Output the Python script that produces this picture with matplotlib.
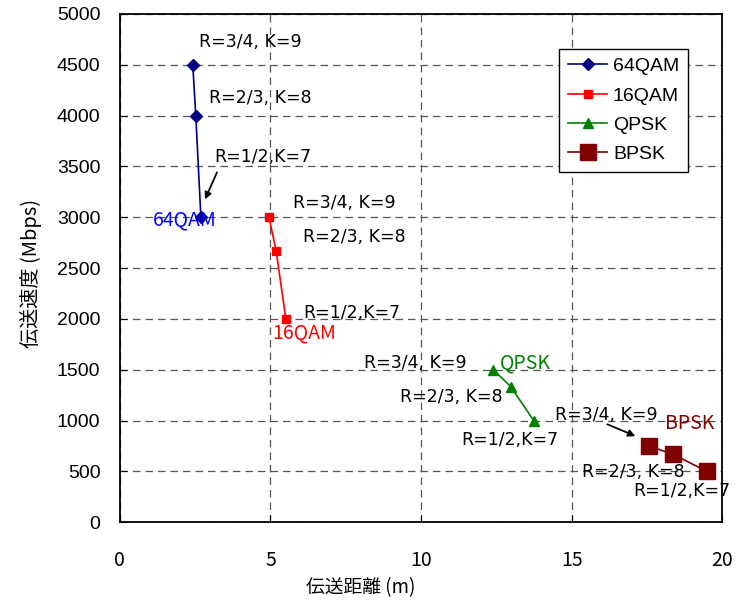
import matplotlib
matplotlib.use("Agg")
import matplotlib.pyplot as plt

plt.rcParams['font.family'] = ['Noto Sans CJK JP', 'DejaVu Sans']

# data: distance (m) and rate (Mbps) for each modulation
qam64_x = [2.42, 2.52, 2.69]
qam64_y = [4500, 4000, 3000]
qam16_x = [4.95, 5.19, 5.51]
qam16_y = [3000, 2667, 2000]
qpsk_x = [12.4, 12.98, 13.74]
qpsk_y = [1500, 1333, 1000]
bpsk_x = [17.57, 18.38, 19.49]
bpsk_y = [750, 667, 500]

x_ticks = [0, 5, 10, 15, 20]
y_ticks = list(range(0, 5001, 500))

fig = plt.figure(figsize=(7.40, 6.01), dpi=100)
ax = fig.add_axes([0.162, 0.131, 0.814, 0.846])

ax.plot(qam64_x, qam64_y, color='#000080', marker='D', markersize=6, linewidth=1.2, label='64QAM')
ax.plot(qam16_x, qam16_y, color='red', marker='s', markersize=6, linewidth=1.2, label='16QAM')
ax.plot(qpsk_x, qpsk_y, color='#008000', marker='^', markersize=7, linewidth=1.2, label='QPSK')
ax.plot(bpsk_x, bpsk_y, color='#800000', marker='s', markersize=11, linewidth=1.2, label='BPSK')

ax.set_xlim(0, 20)
ax.set_ylim(0, 5000)
ax.set_xticks(x_ticks)
ax.set_yticks(y_ticks)
ax.grid(True, color='#555555', linestyle=(0, (6, 4)), linewidth=0.9)
ax.tick_params(direction='in', length=5)
ax.tick_params(axis='x', pad=20, labelsize=14)
ax.tick_params(axis='y', pad=14, labelsize=14)
for lab in ax.get_yticklabels():
    lab.set_family('Liberation Sans')
for sp in ax.spines.values():
    sp.set_linewidth(1.3)

ax.set_xlabel('伝送距離 (m)', fontsize=13.5)
ax.set_ylabel('伝送速度 (Mbps)', fontsize=14.5)
ax.xaxis.set_label_coords(0.399, -0.108)
ax.yaxis.set_label_coords(-0.13, 0.49)

fs = 12.5
tf = 'DejaVu Sans'
cf = 14
# 64QAM labels
ax.text(2.62, 4724, 'R=3/4, K=9', fontsize=fs, family=tf, va='center')
ax.text(2.96, 4173, 'R=2/3, K=8', fontsize=fs, family=tf, va='center')
ax.text(3.12, 3593, 'R=1/2,K=7', fontsize=fs, family=tf, va='center')
ax.annotate('', xy=(2.79, 3150), xytext=(3.26, 3465),
            arrowprops=dict(arrowstyle='-|>', color='black', lw=1.3))
ax.text(1.1, 2972, '64QAM', fontsize=cf, va='center', color='#0000ff')

# 16QAM labels
ax.text(5.75, 3140, 'R=3/4, K=9', fontsize=fs, family=tf, va='center')
ax.text(6.08, 2805, 'R=2/3, K=8', fontsize=fs, family=tf, va='center')
ax.text(6.08, 2057, 'R=1/2,K=7', fontsize=fs, family=tf, va='center')
ax.text(5.05, 1860, '16QAM', fontsize=cf, va='center', color='red')

# QPSK labels
ax.text(8.1, 1565, 'R=3/4, K=9', fontsize=fs, family=tf, va='center')
ax.text(12.62, 1565, 'QPSK', fontsize=cf, va='center', color='#008000')
ax.text(9.3, 1230, 'R=2/3, K=8', fontsize=fs, family=tf, va='center')
ax.text(11.33, 807, 'R=1/2,K=7', fontsize=fs, family=tf, va='center')

# BPSK labels
ax.text(14.45, 1053, 'R=3/4, K=9', fontsize=fs, family=tf, va='center')
ax.annotate('', xy=(17.2, 837), xytext=(16.1, 974),
            arrowprops=dict(arrowstyle='-|>', color='black', lw=1.3))
ax.text(18.1, 974, 'BPSK', fontsize=cf, va='center', color='#800000')
ax.text(15.35, 492, 'R=2/3, K=8', fontsize=fs, family=tf, va='center')
ax.text(17.04, 305, 'R=1/2,K=7', fontsize=fs, family=tf, va='center')

leg = ax.legend(loc='upper right', bbox_to_anchor=(0.943, 0.931),
                prop={'family': 'Liberation Sans', 'size': 14},
                fancybox=False, edgecolor='black', framealpha=1,
                borderaxespad=0, handlelength=2.0, labelspacing=0.6,
                handletextpad=0.3, borderpad=0.45)
leg.get_frame().set_linewidth(1.0)

fig.savefig('out.png', dpi=100)
